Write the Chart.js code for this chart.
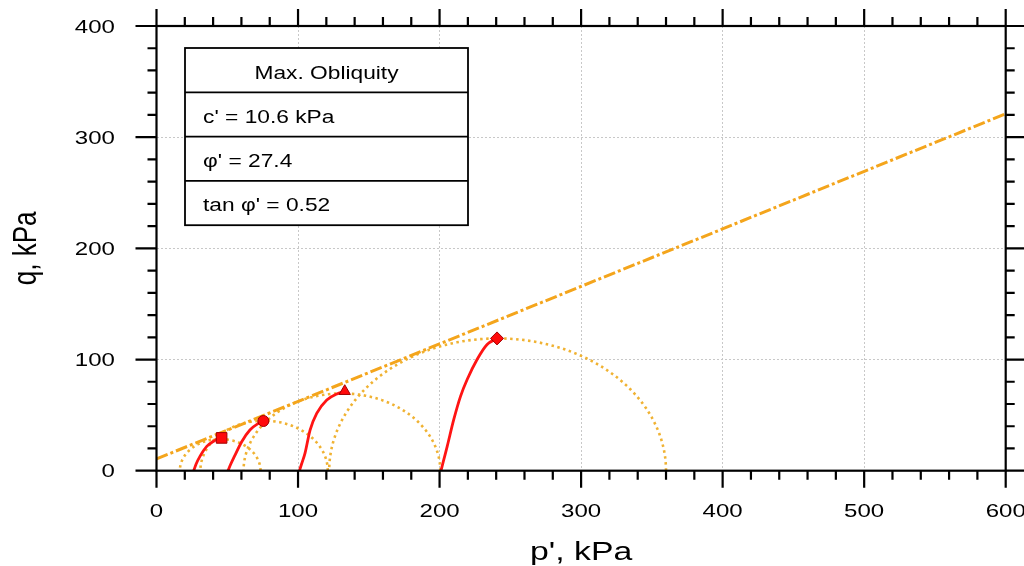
<!DOCTYPE html>
<html lang="en">
<head>
  <meta charset="UTF-8" />
  <title>Max. Obliquity - p'-q stress paths</title>
  <script src="https://cdn.jsdelivr.net/npm/chart.js"></script>
  <style>
    body { margin: 0; background: #fff; }
    #wrap { width: 1024px; height: 566px; }
  </style>
</head>
<body>
  <div id="wrap"><canvas id="pq" width="1024" height="566"></canvas></div>
  <script>
    // Axis ticks
    const xTicks = [0, 100, 200, 300, 400, 500, 600];
    const yTicks = [0, 100, 200, 300, 400];
    const minorStep = 20;

    // Failure envelope (Max. Obliquity)
    const envP = [0, 600];
    const envQ = [10.6, 321];

    // Stress paths
    const path1P = [26.3, 28, 30.7, 35.5, 40.1, 44.4, 46];
    const path1Q = [0, 6, 12.9, 21.9, 26.3, 29.2, 29.5];
    const path2P = [50.5, 52.5, 55.5, 60.2, 66, 72, 75.5];
    const path2Q = [0, 6, 14.1, 26.1, 36.6, 42.6, 44.7];
    const path3P = [101, 102.5, 104.9, 108.5, 113.2, 120.3, 127.4, 133];
    const path3Q = [0, 6, 15.6, 36.6, 51.6, 63.6, 69, 71.5];
    const path4P = [201, 202.8, 205.4, 210, 214.8, 219.5, 226.5, 233.6, 240.6];
    const path4Q = [0, 9, 21.9, 45.9, 66.9, 82, 100, 113.5, 119];

    // Failure points
    const peakP = [46, 75.5, 133, 240.6];
    const peakQ = [29.5, 44.7, 71.5, 119];
    const peakStyle = ['rect', 'circle', 'triangle', 'rectRot'];
    const peakSize = [7.5, 5.5, 6.5, 6.5];

    // Mohr circles: centre p' and radius q
    const circleP = [45, 76, 131, 241];
    const circleR = [28.5, 45, 69.5, 119];

    // Info table text
    const infoTitle = 'Max. Obliquity';
    const infoRows = ["c' = 10.6 kPa", "φ' = 27.4", "tan φ' = 0.52"];

    const SX = 1.3; // horizontal stretch of all the text in the reference
    const FONT = '"Liberation Sans", Arial, sans-serif';

    const xy = (ps, qs) => ps.map((p, i) => ({ x: p, y: qs[i] }));

    function semicircle(c, r) {
      const pts = [];
      for (let i = 0; i <= 90; i++) {
        const a = Math.PI * i / 90;
        pts.push({ x: c + r * Math.cos(a), y: r * Math.sin(a) });
      }
      return pts;
    }

    function stretchText(ctx, txt, x, y, align) {
      ctx.save();
      ctx.translate(x, y);
      ctx.scale(SX, 1);
      ctx.textAlign = align;
      ctx.fillText(txt, 0, 0);
      ctx.restore();
    }

    // Frame, mirrored ticks, labels and the info table
    const framePlugin = {
      id: 'frame',
      afterDraw(chart) {
        const { ctx, chartArea: a, scales: { x, y } } = chart;
        ctx.save();
        ctx.strokeStyle = '#000';
        ctx.lineWidth = 2.2;
        ctx.strokeRect(a.left, a.top, a.right - a.left, a.bottom - a.top);

        ctx.beginPath();
        for (let v = x.min; v <= x.max; v += minorStep) {
          const px = x.getPixelForValue(v);
          const len = xTicks.includes(v) ? 17 : 9;
          ctx.moveTo(px, a.bottom); ctx.lineTo(px, a.bottom + len);
          ctx.moveTo(px, a.top); ctx.lineTo(px, a.top - len);
        }
        for (let v = y.min; v <= y.max; v += minorStep) {
          const py = y.getPixelForValue(v);
          const len = yTicks.includes(v) ? 21 : 9;
          ctx.moveTo(a.left, py); ctx.lineTo(a.left - len, py);
          ctx.moveTo(a.right, py); ctx.lineTo(a.right + len, py);
        }
        ctx.stroke();

        // tick labels
        ctx.fillStyle = '#000';
        ctx.textBaseline = 'alphabetic';
        ctx.font = '18.5px ' + FONT;
        xTicks.forEach(v => stretchText(ctx, String(v), x.getPixelForValue(v), a.bottom + 46.5, 'center'));
        yTicks.forEach(v => stretchText(ctx, String(v), a.left - 41.5, y.getPixelForValue(v) + 6.7, 'right'));

        // axis titles
        ctx.font = '26px ' + FONT;
        stretchText(ctx, "p', kPa", (a.left + a.right) / 2, a.bottom + 89.3, 'center');
        ctx.save();
        ctx.translate(36, (a.top + a.bottom) / 2);
        ctx.rotate(-Math.PI / 2);
        ctx.scale(1, SX);
        ctx.textAlign = 'center';
        ctx.fillText('q, kPa', 0, 0);
        ctx.restore();

        // info table
        const bx = a.left + 28.5, by = a.top + 22, bw = 283, rh = 44.3;
        ctx.fillStyle = '#fff';
        ctx.fillRect(bx, by, bw, rh * 4);
        ctx.lineWidth = 1.8;
        ctx.strokeRect(bx, by, bw, rh * 4);
        ctx.beginPath();
        for (let i = 1; i < 4; i++) {
          ctx.moveTo(bx, by + rh * i);
          ctx.lineTo(bx + bw, by + rh * i);
        }
        ctx.stroke();
        ctx.fillStyle = '#000';
        ctx.font = '17.5px ' + FONT;
        stretchText(ctx, infoTitle, bx + bw / 2, by + 30.5, 'center');
        infoRows.forEach((t, i) => stretchText(ctx, t, bx + 18, by + rh * (i + 1) + 30.5, 'left'));
        ctx.restore();
      }
    };

    const datasets = [
      {
        label: 'Failure',
        data: xy(peakP, peakQ),
        pointStyle: peakStyle,
        pointRadius: peakSize,
        backgroundColor: '#ff0a0a',
        borderColor: '#a00000',
        borderWidth: 1,
        showLine: false
      }
    ];
    [[path1P, path1Q], [path2P, path2Q], [path3P, path3Q], [path4P, path4Q]].forEach(([p, q], i) => {
      datasets.push({
        label: 'Path ' + (i + 1),
        data: xy(p, q),
        showLine: true,
        borderColor: '#ff1414',
        borderWidth: 2.8,
        pointRadius: 0,
        cubicInterpolationMode: 'monotone'
      });
    });
    datasets.push({
      label: 'Max. Obliquity envelope',
      data: xy(envP, envQ),
      showLine: true,
      borderColor: '#f4a51c',
      borderWidth: 3,
      borderDash: [12, 3, 3, 3],
      pointRadius: 0
    });
    circleP.forEach((c, i) => {
      datasets.push({
        label: 'Mohr circle ' + (i + 1),
        data: semicircle(c, circleR[i]),
        showLine: true,
        borderColor: '#f0b232',
        borderWidth: 2.6,
        borderDash: [2.5, 3.5],
        pointRadius: 0
      });
    });

    new Chart(document.getElementById('pq'), {
      type: 'scatter',
      data: { datasets },
      options: {
        responsive: false,
        animation: false,
        devicePixelRatio: 1,
        layout: { padding: { top: 26, right: 18.3, left: 0, bottom: 0 } },
        plugins: { legend: { display: false }, tooltip: { enabled: false } },
        scales: {
          x: {
            type: 'linear', min: 0, max: 600,
            ticks: { display: false, stepSize: 100 },
            grid: { color: '#c8c8c8', lineWidth: 1, drawTicks: false },
            border: { display: false, dash: [2, 2] },
            afterFit: s => { s.height = 95.3; }
          },
          y: {
            type: 'linear', min: 0, max: 400,
            ticks: { display: false, stepSize: 100 },
            grid: { color: '#c8c8c8', lineWidth: 1, drawTicks: false },
            border: { display: false, dash: [2, 2] },
            afterFit: s => { s.width = 156.5; }
          }
        }
      },
      plugins: [framePlugin]
    });
  </script>
</body>
</html>
